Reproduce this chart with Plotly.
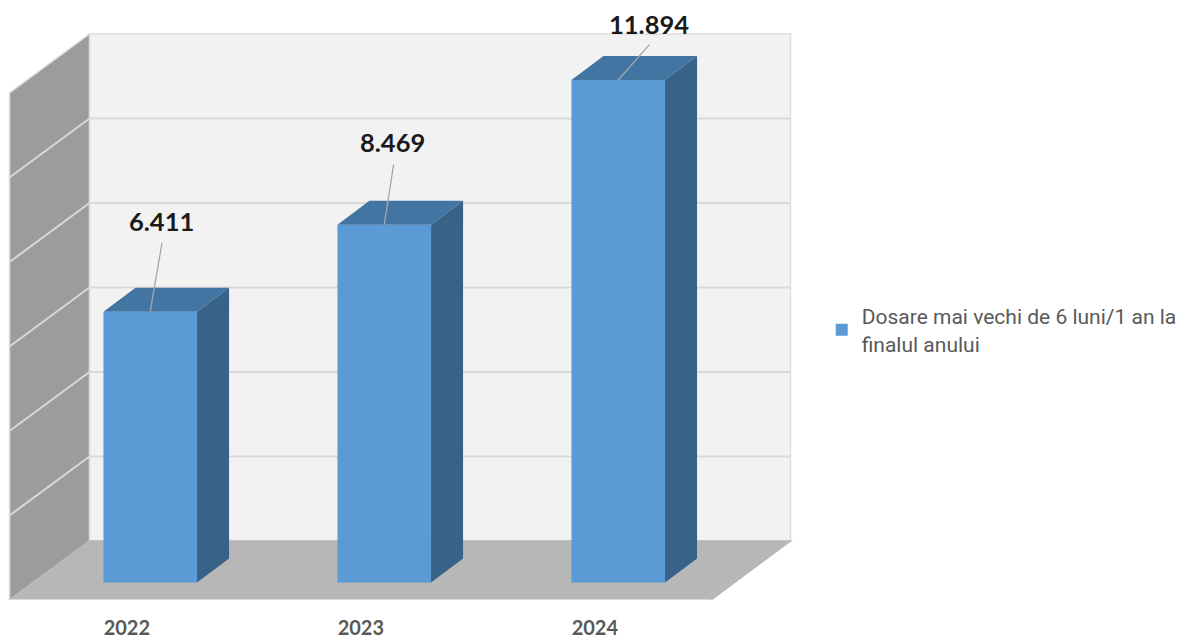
import plotly.graph_objects as go

years = ["2022", "2023", "2024"]
values = [6411, 8469, 11894]
labels = ["6.411", "8.469", "11.894"]
series_name = "Dosare mai vechi de 6 luni/1 an la<br>finalul anului"
grid_values = [0, 2000, 4000, 6000, 8000, 10000, 12000]

PX_X = 234.0       # pixels per category
PX_Y = 0.04225     # pixels per value unit
x_of = lambda px: (px - 150.25) / PX_X
y_of = lambda py: (582.5 - py) / PX_Y

positions = list(range(len(years)))
bar_w = 0.40
bar_dx, bar_dy = 32 / PX_X, 24 / PX_Y

# wall geometry, in axis units
back_l, back_r = x_of(89.5), x_of(790.5)
front_l, front_r = x_of(9.5), x_of(711)
back_0, front_0 = y_of(541), y_of(600)


def poly(xs, ys, color, line=None):
    path = "M " + " L ".join(f"{a},{b}" for a, b in zip(xs, ys)) + " Z"
    return dict(type="path", path=path, xref="x", yref="y", fillcolor=color,
                line=dict(color=line or color, width=1.5 if line else 0), layer="below")


shapes = [
    poly([back_l, back_r, back_r, back_l],
         [back_0, back_0, back_0 + 12000, back_0 + 12000], "#f2f2f2", "#dedede"),
    poly([front_l, back_l, back_l, front_l],
         [front_0, back_0, back_0 + 12000, front_0 + 12000], "#9c9c9c", "#dedede"),
    poly([front_l, front_r, back_r, back_l],
         [front_0, front_0, back_0, back_0], "#b7b7b7", "#b7b7b7"),
]
for g in grid_values[1:-1]:
    shapes.append(dict(type="line", xref="x", yref="y", layer="below",
                       x0=back_l, x1=back_r, y0=back_0 + g, y1=back_0 + g,
                       line=dict(color="#d9d9d9", width=2)))
    shapes.append(dict(type="line", xref="x", yref="y", layer="below",
                       x0=front_l, x1=back_l, y0=front_0 + g, y1=back_0 + g,
                       line=dict(color="#d9d9d9", width=2)))
shapes.append(dict(type="line", xref="x", yref="y", layer="below",
                   x0=front_l, x1=front_r, y0=front_0, y1=front_0,
                   line=dict(color="#d9d9d9", width=2)))

fig = go.Figure()
fig.add_bar(x=positions, y=values, width=bar_w, name=series_name,
            marker=dict(color="#5b9bd5", line=dict(width=0)))

label_dx = [0.046, 0.035, 0.133]
label_y = [8556, 10426, 13225]
lead_dx = [0.05, 0.04, 0.133]
lead_top = [8030, 9890, 12730]

for p, v, ldx, lt in zip(positions, values, lead_dx, lead_top):
    l, r = p - bar_w / 2, p + bar_w / 2
    fig.add_scatter(x=[l, r, r + bar_dx, l + bar_dx, l], y=[v, v, v + bar_dy, v + bar_dy, v],
                    mode="lines", fill="toself", fillcolor="#4375a3", line=dict(width=0),
                    showlegend=False, hoverinfo="skip")
    fig.add_scatter(x=[r, r + bar_dx, r + bar_dx, r, r], y=[0, bar_dy, v + bar_dy, v, 0],
                    mode="lines", fill="toself", fillcolor="#386287", line=dict(width=0),
                    showlegend=False, hoverinfo="skip")
    fig.add_scatter(x=[p, p + ldx], y=[v, lt], mode="lines",
                    line=dict(color="#a6a6a6", width=1.3), showlegend=False, hoverinfo="skip")

annotations = [
    dict(x=p + dx, y=y, xref="x", yref="y", text=f"<b>{t}</b>", showarrow=False,
         xanchor="center", yanchor="middle",
         font=dict(family="Lato, Carlito, sans-serif", size=25.5, color="#1a1a1a"))
    for p, dx, y, t in zip(positions, label_dx, label_y, labels)
]

# the page adds an 8px body margin, so the figure spans 8..1189 and 8..639
fig.update_layout(
    width=1181, height=631,
    margin=dict(l=0, r=0, t=0, b=39, pad=0, autoexpand=False),
    paper_bgcolor="white", plot_bgcolor="white",
    shapes=shapes, annotations=annotations,
    showlegend=True,
    legend=dict(x=0.689, y=0.456, xanchor="left", yanchor="middle",
                font=dict(family="Roboto, sans-serif", size=21, color="#595959"),
                bgcolor="rgba(0,0,0,0)", itemclick=False, itemdoubleclick=False),
    xaxis=dict(range=[x_of(8), x_of(1189)], tickmode="array", automargin=False,
               tickvals=[p - 0.1 for p in positions], ticktext=[f"<b>{y}</b>" for y in years],
               tickfont=dict(family="Lato, Carlito, sans-serif", size=20, color="#595959"),
               showgrid=False, zeroline=False, showline=False, ticks="outside",
               ticklen=10, tickcolor="rgba(0,0,0,0)", fixedrange=True),
    yaxis=dict(range=[y_of(600), y_of(8)], visible=False, fixedrange=True),
)
fig.write_html("out.html")
